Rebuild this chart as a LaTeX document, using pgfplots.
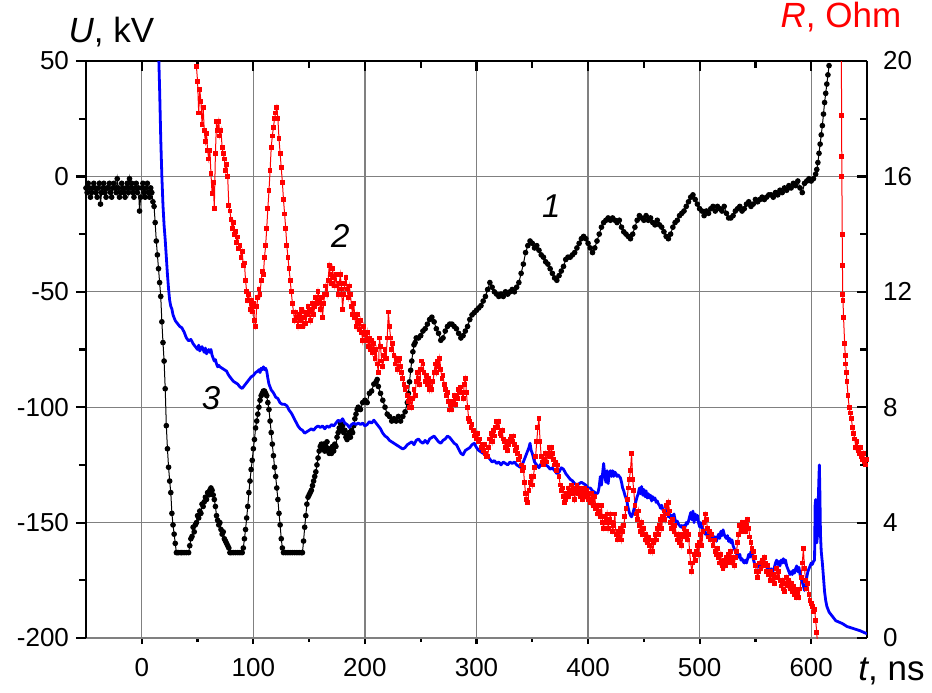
\documentclass[border=0pt]{standalone}
\usepackage{fontspec}
\setmainfont{Liberation Sans}
\usepackage{pgfplots}
\pgfplotsset{compat=1.18}
\begin{document}
\begin{tikzpicture}
\pgfplotsset{
  base/.style={scale only axis, width=390.5pt, height=288.5pt, at={(0pt,0pt)}, anchor=south west,
    xmin=-50, xmax=650, /pgf/number format/assume math mode=true,
    tick label style={font=\fontsize{13}{15}\selectfont},
    axis line style={line width=1.2pt,-},
    tick style={line width=1.1pt, black},
    xtick={0,100,...,600}, minor x tick num=1},
}
% bottom x axis + vertical grid
\begin{axis}[base, ymin=-200, ymax=50, axis x line*=bottom, axis y line=none,
  tick align=outside, major tick length=3pt, minor tick length=2pt,
  xticklabel style={yshift=-3.5pt},
  xmajorgrids, major grid style={black!50, line width=0.6pt}]
\end{axis}
% left U axis + horizontal grid + curve 1
\begin{axis}[base, ymin=-200, ymax=50, axis y line*=left, hide x axis,
  ytick={-200,-150,...,50}, minor y tick num=1,
  tick align=outside, major tick length=5pt, minor tick length=3.5pt,
  ymajorgrids, major grid style={black!50, line width=0.6pt}]
\addplot[black, line width=0.5pt, mark=*, mark size=1.15pt] coordinates {
(-50,-5)(-49,-7)(-48,-3)(-47,-5)(-46,-9)(-45,-7)(-44,-5)(-43,-3)(-42,-5)(-41,-7)(-40,-9)(-39,-5)(-38,-3)(-37,-12)(-36,-7)(-35,-5)(-34,-3)(-33,-7)(-32,-9)(-31,-5)(-30,-5)(-29,-3)(-28,-7)(-27,-9)(-26,-5)(-25,-3)(-24,-5)(-23,-7)(-22,-1)(-21,-5)(-20,-9)(-19,-7)(-18,-3)(-17,-5)(-16,-7)(-15,-9)(-14,-5)(-13,-3)(-12,-7)(-11,-1)(-10,-5)(-9,-3)(-8,-7)(-7,-9)(-6,-5)(-5,-3)(-4,-7)(-3,-5)(-2,-15)(-1,-9)(0,-5)(1,-3)(2,-7)(3,-9)(4,-5)(5,-3)(6,-7)(7,-9)(8,-5)(9,-7)(10,-11)(11,-13)(12,-20)(13,-28)(14,-34)(15,-40)(16,-46)(17,-52)(18,-63)(19,-72)(20,-80)(21,-92)(22,-108)(23,-118)(24,-126)(25,-132)(26,-137)(27,-146)(28,-151)(29,-155)(30,-159)(31,-163)(32,-163)(33,-163)(35,-163)(36,-163)(38,-163)(40,-163)(42,-163)(43,-160)(44,-157)(45,-156)(46,-152)(47,-154)(48,-151)(49,-150)(50,-147)(51,-148)(52,-145)(53,-146)(54,-142)(55,-143)(56,-141)(57,-139)(58,-140)(59,-137)(60,-138)(61,-136)(62,-135)(63,-136)(64,-138)(65,-140)(66,-143)(67,-147)(68,-149)(69,-151)(70,-150)(71,-153)(72,-155)(73,-154)(74,-157)(75,-158)(76,-159)(77,-160)(78,-161)(79,-163)(80,-163)(82,-163)(84,-163)(86,-163)(88,-163)(90,-163)(91,-161)(92,-157)(93,-153)(94,-148)(95,-143)(96,-137)(97,-132)(98,-127)(99,-123)(100,-118)(101,-114)(102,-109)(103,-106)(104,-103)(105,-100)(106,-97)(107,-95)(108,-94)(109,-93)(110,-93)(111,-94)(112,-95)(113,-98)(114,-101)(115,-106)(116,-111)(117,-116)(118,-121)(119,-126)(120,-130)(121,-135)(122,-140)(123,-146)(124,-151)(125,-157)(126,-161)(127,-163)(129,-163)(131,-163)(133,-163)(135,-163)(137,-163)(139,-163)(141,-163)(143,-163)(144,-163)(145,-158)(146,-152)(147,-147)(148,-142)(149,-139)(150,-138)(151,-137)(152,-136)(153,-134)(154,-132)(155,-130)(156,-128)(157,-125)(158,-122)(159,-119)(160,-117)(161,-116)(162,-118)(163,-116)(164,-119)(165,-117)(166,-115)(167,-118)(168,-120)(169,-118)(170,-120)(171,-117)(172,-119)(173,-116)(174,-117)(175,-113)(176,-111)(177,-109)(178,-107)(179,-110)(180,-108)(181,-111)(182,-110)(183,-113)(184,-114)(185,-112)(186,-111)(187,-113)(188,-110)(189,-111)(190,-108)(191,-105)(192,-103)(193,-101)(194,-100)(196,-101)(198,-98)(200,-97)(202,-98)(204,-94)(206,-93)(208,-90)(210,-89)(211,-88)(212,-91)(214,-94)(216,-97)(218,-100)(220,-103)(222,-104)(224,-106)(226,-105)(228,-106)(230,-104)(232,-106)(234,-104)(236,-102)(238,-98)(239,-94)(240,-89)(241,-84)(242,-80)(243,-76)(244,-73)(245,-72)(246,-70)(248,-70)(250,-69)(252,-67)(254,-66)(256,-64)(258,-62)(260,-61)(262,-63)(264,-66)(266,-68)(268,-71)(270,-70)(272,-67)(274,-65)(276,-64)(278,-64)(280,-65)(282,-66)(284,-68)(286,-70)(288,-69)(290,-67)(292,-65)(294,-62)(296,-60)(298,-59)(300,-58)(302,-57)(304,-56)(306,-54)(308,-52)(310,-49)(312,-46)(314,-48)(316,-50)(318,-51)(320,-52)(322,-51)(324,-52)(326,-50)(328,-51)(330,-50)(332,-49)(334,-50)(336,-48)(338,-46)(340,-42)(342,-38)(344,-33)(346,-30)(348,-28)(350,-29)(352,-31)(354,-30)(356,-32)(358,-34)(360,-35)(362,-37)(364,-38)(366,-40)(368,-42)(370,-44)(372,-45)(374,-43)(376,-41)(378,-39)(380,-36)(382,-35)(384,-35)(386,-34)(388,-33)(390,-31)(392,-29)(394,-27)(396,-26)(398,-27)(400,-29)(402,-31)(404,-33)(406,-31)(408,-28)(410,-25)(412,-22)(414,-20)(416,-19)(418,-18)(420,-19)(422,-18)(424,-19)(426,-20)(428,-19)(430,-22)(432,-24)(434,-25)(436,-26)(438,-27)(440,-25)(442,-22)(444,-19)(446,-17)(448,-18)(450,-19)(452,-17)(454,-19)(456,-18)(458,-20)(460,-21)(462,-19)(464,-21)(466,-22)(468,-24)(470,-26)(472,-27)(474,-25)(476,-22)(478,-20)(480,-19)(482,-17)(484,-16)(486,-15)(488,-13)(490,-11)(492,-9)(494,-8)(496,-10)(498,-12)(500,-14)(502,-15)(504,-17)(506,-15)(508,-16)(510,-14)(512,-13)(514,-15)(516,-13)(518,-14)(520,-15)(522,-13)(524,-16)(526,-18)(528,-18)(530,-17)(532,-15)(534,-14)(536,-13)(538,-15)(540,-14)(542,-12)(544,-11)(546,-13)(548,-12)(550,-10)(552,-11)(554,-10)(556,-9)(558,-10)(560,-9)(562,-8)(564,-8)(566,-9)(568,-7)(570,-8)(572,-6)(574,-7)(576,-5)(578,-6)(580,-4)(582,-5)(584,-3)(586,-4)(588,-2)(590,-5)(592,-7)(594,-3)(596,-2)(598,-1)(600,-2)(602,-1)(604,1)(605,3)(606,6)(607,10)(608,14)(609,18)(610,22)(611,27)(612,32)(613,36)(614,40)(615,44)(616,48)
};
\node[font=\fontsize{16.5}{18}\selectfont\itshape] at (axis cs:62,-96) {3};
\node[font=\fontsize{16.5}{18}\selectfont\itshape] at (axis cs:178,-26) {2};
\node[font=\fontsize{16.5}{18}\selectfont\itshape] at (axis cs:367,-13) {1};
\end{axis}
% right R axis + top x axis + curves 2 and 3
\begin{axis}[base, ymin=0, ymax=20, axis y line*=right, axis x line*=top,
  xticklabels={}, ytick={0,4,...,20}, minor y tick num=1,
  yticklabel style={xshift=4.5pt},
  tick align=inside, major tick length=5pt, minor tick length=3.5pt]
\addplot[red, line width=0.5pt, mark=square*, mark size=0.95pt] coordinates {
(49,19.8)(50,19.3)(51,18.2)(52,19.0)(53,18.6)(54,17.8)(55,18.4)(56,17.6)(57,17.2)(58,17.5)(59,16.9)(60,16.6)(61,16.9)(62,16.1)(63,15.4)(64,15.8)(65,14.9)(66,16.8)(67,17.9)(68,17.6)(69,17.9)(70,17.4)(71,17.6)(72,17.0)(73,16.8)(74,16.6)(75,16.2)(76,16.4)(77,16.0)(78,15.0)(79,14.8)(80,14.5)(81,14.2)(82,14.4)(83,14.0)(84,14.1)(85,13.7)(86,13.9)(87,13.5)(88,13.6)(89,13.2)(90,13.4)(91,12.9)(92,13.0)(93,12.4)(94,12.0)(95,11.7)(96,11.9)(97,11.4)(98,11.7)(99,11.3)(100,11.6)(101,11.0)(102,10.8)(103,11.5)(104,11.8)(105,12.1)(106,11.9)(107,12.4)(108,12.7)(109,12.6)(110,13.2)(111,13.6)(112,14.2)(113,14.9)(114,15.5)(115,16.2)(116,17.0)(117,17.4)(118,17.7)(119,18.0)(120,18.2)(121,18.4)(122,18.0)(123,17.3)(124,16.8)(125,16.3)(126,15.8)(127,15.2)(128,14.7)(129,14.2)(130,13.6)(131,13.2)(132,12.8)(133,12.4)(134,12.0)(135,11.6)(136,11.3)(137,11.0)(138,11.3)(139,11.1)(140,10.8)(141,11.2)(142,11.0)(143,11.4)(144,10.8)(145,11.1)(146,11.3)(147,10.9)(148,11.2)(149,11.5)(150,11.3)(151,11.0)(152,11.4)(153,11.6)(154,11.2)(155,11.5)(156,11.8)(157,11.6)(158,12.0)(159,11.7)(160,11.4)(161,11.8)(162,11.1)(163,11.6)(164,11.9)(165,12.2)(166,11.9)(167,12.4)(168,12.9)(169,12.6)(170,12.3)(171,12.8)(172,12.5)(173,12.2)(174,12.6)(175,12.2)(176,11.9)(177,12.3)(178,12.6)(179,12.1)(180,11.4)(181,11.9)(182,12.3)(183,12.5)(184,12.1)(185,11.8)(186,12.2)(187,11.9)(188,11.5)(189,11.2)(190,11.6)(191,11.1)(192,10.8)(193,11.2)(194,10.9)(195,10.7)(196,11.0)(197,10.6)(198,10.3)(199,10.8)(200,10.5)(201,10.3)(202,10.6)(203,10.1)(204,10.4)(205,10.0)(206,10.3)(207,9.9)(208,10.2)(209,9.7)(210,10.0)(211,9.5)(212,9.2)(213,10.4)(214,10.1)(215,9.6)(216,9.4)(217,9.8)(218,10.0)(219,9.7)(220,10.4)(221,11.3)(222,10.8)(223,10.4)(224,10.0)(225,10.2)(226,9.8)(227,9.5)(228,9.7)(229,9.3)(230,9.6)(231,9.7)(232,9.4)(233,9.2)(234,9.0)(235,8.8)(236,8.6)(237,8.7)(238,8.4)(239,8.2)(240,8.0)(241,8.3)(242,8.0)(243,8.3)(244,8.6)(245,8.4)(246,8.9)(247,9.2)(248,9.0)(249,8.8)(250,9.3)(251,9.6)(252,9.5)(253,9.2)(254,8.9)(255,9.1)(256,8.8)(257,9.0)(258,8.6)(259,8.9)(260,8.6)(261,8.9)(262,9.2)(263,9.5)(264,9.2)(265,9.6)(266,9.4)(267,9.7)(268,9.3)(269,9.0)(270,9.1)(271,8.8)(272,8.6)(273,8.4)(274,8.5)(275,8.2)(276,7.9)(277,8.1)(278,7.9)(279,8.2)(280,8.4)(281,8.1)(282,8.4)(283,8.3)(284,8.6)(285,8.5)(286,8.7)(287,8.5)(288,8.3)(289,8.8)(290,9.0)(291,8.5)(292,8.0)(293,7.6)(294,7.5)(295,7.3)(296,7.4)(297,7.2)(298,7.0)(299,7.1)(300,6.9)(301,7.1)(302,6.8)(303,6.9)(304,6.6)(305,6.7)(306,6.5)(307,6.7)(308,6.4)(309,6.3)(310,6.3)(311,6.6)(312,6.9)(313,7.1)(314,6.8)(315,7.2)(316,7.0)(317,7.3)(318,7.5)(319,7.3)(320,7.5)(321,7.1)(322,7.0)(323,7.2)(324,6.9)(325,6.8)(326,6.6)(327,6.8)(328,6.5)(329,6.7)(330,6.9)(331,7.0)(332,6.8)(333,7.0)(334,6.7)(335,6.5)(336,6.6)(337,6.4)(338,6.2)(339,6.3)(340,6.0)(341,5.8)(342,5.9)(343,5.4)(344,5.0)(345,4.8)(346,4.7)(347,5.1)(348,5.4)(349,5.6)(350,5.3)(351,5.6)(352,5.9)(353,6.3)(354,6.8)(355,7.3)(356,7.6)(357,6.8)(358,6.3)(359,6.1)(360,6.0)(361,6.2)(362,6.4)(363,6.1)(364,6.4)(365,6.6)(366,6.3)(367,6.6)(368,6.4)(369,6.2)(370,6.0)(371,6.1)(372,5.8)(373,6.0)(374,5.6)(375,5.3)(376,5.1)(377,5.2)(378,4.9)(379,4.7)(380,4.8)(381,5.0)(382,5.2)(383,4.9)(384,5.1)(385,5.3)(386,5.0)(387,5.2)(388,4.8)(389,5.1)(390,5.3)(391,5.0)(392,5.2)(393,4.9)(394,5.1)(395,4.8)(396,5.0)(397,5.2)(398,4.9)(399,5.1)(400,4.8)(401,5.0)(402,4.7)(403,5.0)(404,4.8)(405,4.6)(406,4.9)(407,4.5)(408,4.3)(409,4.6)(410,4.4)(411,4.2)(412,4.6)(413,4.0)(414,3.8)(415,4.2)(416,4.0)(417,4.3)(418,3.8)(419,4.1)(420,4.3)(421,4.0)(422,3.7)(423,3.9)(424,4.3)(425,3.6)(426,3.4)(427,3.7)(428,3.5)(429,3.8)(430,3.4)(431,3.7)(432,3.9)(433,4.2)(434,4.5)(435,4.8)(436,5.2)(437,5.5)(438,5.8)(439,6.4)(440,5.5)(441,5.1)(442,4.6)(443,4.3)(444,4.1)(445,4.4)(446,3.9)(447,3.7)(448,4.0)(449,3.6)(450,3.8)(451,3.4)(452,3.6)(453,3.3)(454,3.5)(455,3.2)(456,3.0)(457,3.4)(458,3.0)(459,3.3)(460,3.6)(461,3.4)(462,3.8)(463,3.6)(464,3.9)(465,4.1)(466,3.8)(467,4.2)(468,4.4)(469,4.1)(470,4.6)(471,4.3)(472,4.7)(473,4.4)(474,4.0)(475,3.8)(476,4.1)(477,3.7)(478,3.9)(479,3.6)(480,3.4)(481,3.6)(482,3.3)(483,3.5)(484,3.2)(485,3.6)(486,3.8)(487,3.5)(488,3.7)(489,3.4)(490,3.6)(491,3.0)(492,2.6)(493,2.3)(494,2.6)(495,2.9)(496,2.7)(497,3.0)(498,3.2)(499,2.9)(500,3.3)(501,3.6)(502,3.2)(503,3.7)(504,4.0)(505,4.3)(506,4.1)(507,3.8)(508,3.5)(509,3.7)(510,3.4)(511,3.6)(512,3.2)(513,3.4)(514,3.0)(515,2.9)(516,3.1)(517,2.8)(518,2.6)(519,2.9)(520,2.5)(521,2.4)(522,2.7)(523,2.5)(524,2.8)(525,2.6)(526,2.9)(527,2.7)(528,3.0)(529,2.6)(530,2.8)(531,2.5)(532,2.8)(533,3.0)(534,3.3)(535,3.6)(536,3.9)(537,3.7)(538,4.0)(539,3.8)(540,4.0)(541,3.7)(542,3.9)(543,4.1)(544,3.8)(545,3.5)(546,3.3)(547,3.1)(548,3.0)(549,2.8)(550,2.5)(551,2.3)(552,2.1)(553,2.3)(554,2.6)(555,2.4)(556,2.7)(557,2.5)(558,2.8)(559,2.6)(560,2.3)(561,2.5)(562,2.2)(563,2.0)(564,2.3)(565,2.0)(566,2.2)(567,1.9)(568,2.1)(569,2.4)(570,2.1)(571,2.3)(572,2.0)(573,1.8)(574,2.0)(575,1.7)(576,1.6)(577,1.9)(578,2.1)(579,1.8)(580,2.0)(581,1.7)(582,1.9)(583,1.6)(584,1.8)(585,1.5)(586,1.7)(587,1.4)(588,1.6)(589,1.4)(590,1.7)(591,2.1)(592,2.6)(593,3.1)(594,2.4)(595,2.0)(596,1.7)(597,1.9)(598,1.5)(599,1.3)(600,1.2)(601,1.1)(602,0.9)(603,1.0)(604,0.6)(605,0.2)(605.5,-0.2)
};
\addplot[red, line width=0.5pt, mark=square*, mark size=0.95pt] coordinates {
(627,22)(627.2,18.1)(627.4,16.7)(627.5,16.0)(627.8,14.0)(628,12.9)(628.3,11.9)(628.5,11.7)(629,11.1)(630,10.2)(630.5,9.8)(631,9.5)(631.5,9.2)(632,8.9)(633,8.4)(634,8.0)(635,7.8)(636,7.6)(637,7.3)(638,7.1)(639,6.9)(640,6.6)(641,6.8)(642,6.5)(643,6.4)(644,6.6)(645,6.3)(646,6.2)(647,6.4)(648,6.1)(649,6.0)(650,6.2)
};
\addplot[blue, line width=1.4pt, line join=round] coordinates {
(14.5,21)(15.3,20)(16,19.0)(17,17.3)(18,16.0)(19,15.0)(20,14.3)(21,13.8)(22,13.2)(23,12.6)(24,12.1)(25,11.7)(26,11.5)(27,11.4)(28,11.2)(29,11.1)(30,11.0)(32,10.9)(34,10.8)(36,10.75)(38,10.6)(40,10.4)(42,10.3)(44,10.35)(46,10.2)(48,10.1)(50,10.0)(51,10.15)(52,9.95)(54,10.1)(56,9.9)(57,10.05)(58,9.85)(60,10.0)(61,9.9)(62,10.0)(63,9.8)(64,9.7)(65,9.6)(66,9.65)(67,9.5)(68,9.4)(69,9.45)(70,9.4)(72,9.35)(74,9.3)(76,9.25)(78,9.1)(80,9.0)(82,8.9)(84,8.85)(86,8.8)(88,8.7)(90,8.65)(92,8.75)(94,8.85)(96,8.95)(98,9.05)(100,9.1)(102,9.2)(104,9.25)(105,9.3)(106,9.2)(107,9.35)(108,9.3)(109,9.4)(110,9.3)(111,9.35)(112,9.25)(113,9.0)(114,8.8)(116,8.6)(118,8.5)(120,8.35)(122,8.3)(124,8.15)(126,8.1)(128,8.1)(130,8.05)(132,7.9)(134,7.8)(136,7.65)(138,7.5)(140,7.35)(142,7.25)(144,7.2)(146,7.1)(148,7.15)(150,7.2)(152,7.25)(154,7.2)(156,7.3)(158,7.35)(160,7.3)(162,7.35)(164,7.25)(166,7.35)(168,7.3)(170,7.4)(172,7.35)(174,7.45)(176,7.55)(178,7.5)(180,7.6)(182,7.45)(184,7.4)(186,7.3)(188,7.4)(190,7.45)(192,7.4)(194,7.45)(196,7.4)(198,7.45)(200,7.35)(202,7.4)(204,7.5)(206,7.45)(208,7.55)(210,7.45)(212,7.35)(214,7.25)(216,7.1)(218,7.0)(220,6.95)(222,6.85)(224,6.8)(226,6.75)(228,6.7)(230,6.65)(232,6.6)(234,6.55)(236,6.6)(238,6.7)(240,6.75)(242,6.8)(244,6.7)(246,6.85)(248,6.9)(250,6.8)(252,6.75)(254,6.85)(256,6.75)(258,6.9)(260,6.95)(262,7.0)(264,6.9)(266,6.8)(268,6.75)(270,6.85)(272,6.9)(274,7.0)(276,6.95)(278,6.85)(280,6.75)(282,6.7)(284,6.55)(286,6.4)(288,6.35)(290,6.5)(292,6.55)(294,6.6)(296,6.7)(298,6.75)(300,6.6)(302,6.5)(304,6.45)(306,6.4)(308,6.35)(310,6.3)(312,6.2)(314,6.1)(316,6.15)(318,6.05)(320,6.1)(322,6.0)(324,6.1)(326,6.05)(328,6.0)(330,6.1)(332,6.05)(334,6.1)(336,6.0)(338,5.95)(340,5.9)(342,6.1)(344,6.3)(346,6.5)(347,6.6)(348,6.75)(349,6.5)(350,6.4)(351,6.25)(352,6.1)(354,6.0)(356,5.9)(358,6.05)(360,6.1)(362,6.0)(364,5.95)(366,5.85)(368,5.9)(370,5.8)(372,5.7)(374,5.75)(376,5.9)(378,5.85)(380,5.7)(382,5.6)(384,5.5)(386,5.45)(388,5.35)(390,5.3)(392,5.35)(394,5.4)(396,5.35)(398,5.3)(400,5.2)(402,5.2)(404,5.1)(406,5.05)(408,5.0)(409,5.05)(410,5.25)(411,5.6)(412,5.3)(413,5.7)(414,6.05)(415,5.6)(416,5.4)(417,5.8)(418,5.35)(419,5.7)(420,5.8)(421,5.6)(422,5.8)(423,5.6)(424,5.75)(425,5.7)(426,5.6)(427,5.65)(428,5.6)(429,5.55)(430,5.4)(431,5.2)(432,5.1)(433,4.95)(434,4.85)(435,4.7)(436,4.5)(437,4.35)(438,4.25)(439,4.2)(440,4.3)(441,4.45)(442,4.6)(443,4.75)(444,4.9)(445,5.0)(446,5.2)(447,5.0)(448,5.25)(449,4.95)(450,5.15)(451,4.9)(452,5.1)(453,4.85)(454,5.0)(455,4.85)(456,4.95)(457,4.75)(458,4.9)(459,4.8)(460,4.85)(461,4.7)(462,4.75)(463,4.65)(464,4.6)(465,4.5)(466,4.6)(467,4.45)(468,4.4)(469,4.45)(470,4.3)(471,4.35)(472,4.2)(473,4.3)(474,4.15)(475,4.25)(476,4.2)(477,4.3)(478,4.1)(479,4.0)(480,4.05)(481,3.95)(482,3.9)(483,3.85)(484,3.9)(485,3.8)(486,3.9)(487,3.85)(488,4.0)(489,3.95)(490,4.05)(491,4.2)(492,4.35)(493,4.1)(494,4.4)(495,4.0)(496,4.3)(497,4.1)(498,4.25)(499,4.0)(500,3.85)(501,4.0)(502,3.8)(503,3.7)(504,3.75)(505,3.6)(506,3.65)(507,3.5)(508,3.55)(509,3.45)(510,3.5)(511,3.4)(512,3.55)(513,3.4)(514,3.5)(515,3.35)(516,3.5)(517,3.6)(518,3.45)(519,3.7)(520,3.55)(521,3.75)(522,3.6)(523,3.5)(524,3.45)(525,3.55)(526,3.35)(527,3.45)(528,3.3)(529,3.4)(530,3.2)(531,3.1)(532,3.0)(533,2.95)(534,2.85)(535,2.8)(536,2.9)(537,2.7)(538,2.75)(539,2.65)(540,2.6)(541,2.7)(542,2.6)(543,2.75)(544,2.9)(545,2.8)(546,3.0)(547,2.9)(548,2.75)(549,2.6)(550,2.5)(551,2.55)(552,2.45)(553,2.5)(554,2.6)(555,2.55)(556,2.7)(557,2.6)(558,2.65)(559,2.55)(560,2.5)(561,2.4)(562,2.35)(563,2.3)(564,2.4)(565,2.25)(566,2.35)(567,2.45)(568,2.6)(569,2.7)(570,2.55)(571,2.65)(572,2.5)(573,2.7)(574,2.6)(575,2.75)(576,2.6)(577,2.7)(578,2.5)(579,2.4)(580,2.3)(581,2.2)(582,2.3)(583,2.2)(584,2.35)(585,2.25)(586,2.4)(587,2.5)(588,2.3)(589,2.45)(590,2.2)(591,2.05)(592,1.95)(593,1.8)(594,1.65)(595,1.8)(596,2.1)(597,2.3)(598,2.4)(599,2.5)(600,2.6)(601,2.55)(602,2.65)(603,2.7)(603.5,4.6)(604,4.8)(604.5,3.6)(605,3.3)(605.5,3.5)(606,4.3)(606.8,5.4)(607.3,6.0)(607.8,5.0)(608.3,3.6)(609,3.0)(610,2.6)(611,2.1)(612,1.6)(613,1.3)(614,1.1)(616,0.9)(618,0.8)(620,0.7)(622,0.6)(625,0.55)(628,0.5)(632,0.4)(636,0.35)(640,0.3)(644,0.25)(648,0.18)(650,0.15)
};
\end{axis}
\node[font=\fontsize{17.5}{20}\selectfont, anchor=base] at (12.75pt,297.5pt) {\textit{U}, kV};
\node[font=\fontsize{17.5}{20}\selectfont, anchor=base, text=red] at (377.5pt,305pt) {\textit{R}, Ohm};
\node[font=\fontsize{17.5}{20}\selectfont, anchor=base] at (402.75pt,-21pt) {\textit{t}, ns};
\pgfresetboundingbox
\path (-43pt,-27pt) rectangle (423pt,319pt);
\end{tikzpicture}
\end{document}
